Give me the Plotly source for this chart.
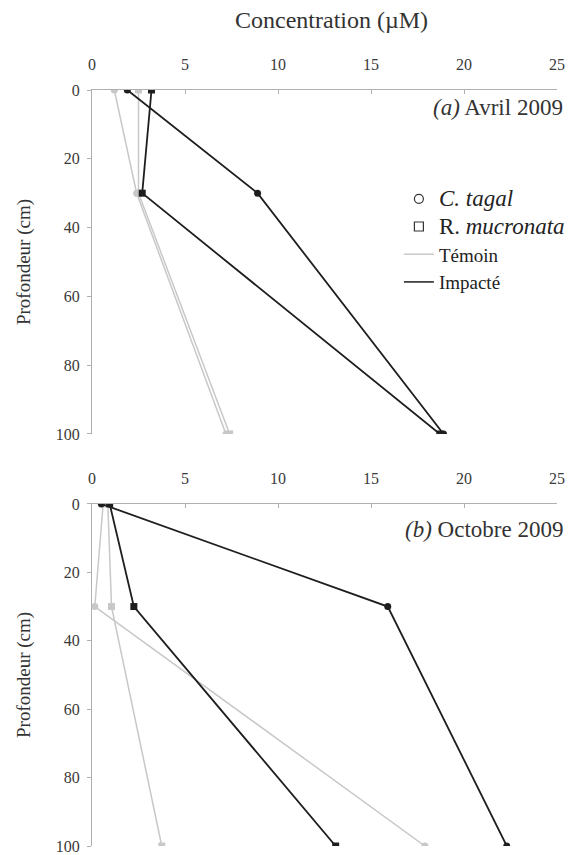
import plotly.graph_objects as go

# depth of each sample (cm)
depth = [0, 30, 100]

# (a) Avril 2009 - concentration (uM)
avr_ctagal_temoin = [1.2, 2.4, 7.2]
avr_rmuc_temoin = [2.5, 2.5, 7.4]
avr_ctagal_impacte = [1.9, 8.9, 18.9]
avr_rmuc_impacte = [3.2, 2.7, 18.7]

# (b) Octobre 2009
oct_ctagal_temoin = [0.6, 0.15, 17.9]
oct_rmuc_temoin = [0.85, 1.05, 3.75]
oct_ctagal_impacte = [0.5, 15.9, 22.3]
oct_rmuc_impacte = [0.95, 2.25, 13.1]

x_ticks = [0, 5, 10, 15, 20, 25]
y_ticks = [0, 20, 40, 60, 80, 100]

grey = '#c8c8c8'
black = '#1e1e1e'
axcol = '#b0b0b0'
font = 'Liberation Serif'

fig = go.Figure()

def add_series(xvals, color, symbol, width, xa, ya):
    fig.add_trace(go.Scatter(x=xvals, y=depth, mode='lines+markers', xaxis=xa, yaxis=ya,
                             line=dict(color=color, width=width),
                             marker=dict(color=color, symbol=symbol, size=7),
                             showlegend=False))

# témoin first so impacté draws on top
add_series(avr_ctagal_temoin, grey, 'circle', 1.5, 'x', 'y')
add_series(avr_rmuc_temoin, grey, 'square', 1.5, 'x', 'y')
add_series(avr_ctagal_impacte, black, 'circle', 1.8, 'x', 'y')
add_series(avr_rmuc_impacte, black, 'square', 1.8, 'x', 'y')

add_series(oct_ctagal_temoin, grey, 'circle', 1.5, 'x2', 'y2')
add_series(oct_rmuc_temoin, grey, 'square', 1.5, 'x2', 'y2')
add_series(oct_ctagal_impacte, black, 'circle', 1.8, 'x2', 'y2')
add_series(oct_rmuc_impacte, black, 'square', 1.8, 'x2', 'y2')

# legend only entries
fig.add_trace(go.Scatter(x=[None], y=[None], mode='markers',
                         name='<span style="font-size:23px"><i>C. tagal</i></span>',
                         marker=dict(symbol='circle-open', color='#333', size=9, line=dict(width=1.2))))
fig.add_trace(go.Scatter(x=[None], y=[None], mode='markers',
                         name='<span style="font-size:23px">R. <i>mucronata</i></span>',
                         marker=dict(symbol='square-open', color='#333', size=9, line=dict(width=1.2))))
fig.add_trace(go.Scatter(x=[None], y=[None], mode='lines', name='Témoin',
                         line=dict(color=grey, width=1.5)))
fig.add_trace(go.Scatter(x=[None], y=[None], mode='lines', name='Impacté',
                         line=dict(color=black, width=1.5)))

xcommon = dict(range=[0, 25], tickvals=x_ticks, side='top', showline=True, linecolor=axcol, linewidth=1,
               ticks='inside', ticklen=4, tickcolor=axcol, showgrid=False, zeroline=False, automargin=False,
               tickfont=dict(size=16, color='#3a3a3a', family=font), ticklabelstandoff=13)
ycommon = dict(range=[100, 0], tickvals=y_ticks, showline=True, linecolor=axcol, linewidth=1,
               ticks='outside', ticklen=4, tickcolor=axcol, showgrid=False, zeroline=False, automargin=False,
               tickfont=dict(size=16, color='#3a3a3a', family=font), ticklabelstandoff=4,
               ticklabeloverflow='allow',
               title=dict(text='Profondeur (cm)', font=dict(size=19, color='#333', family=font), standoff=20))

# page has an 8px body margin, so the figure is 8px smaller than the window
fig.update_layout(
    width=568, height=847,
    margin=dict(l=84, r=19, t=82, b=9, autoexpand=False),
    paper_bgcolor='white', plot_bgcolor='white',
    font=dict(family=font, color='#333'),
    xaxis=dict(xcommon, anchor='y', domain=[0, 1]),
    yaxis=dict(ycommon, anchor='x', domain=[0.545, 1]),
    xaxis2=dict(xcommon, anchor='y2', domain=[0, 1]),
    yaxis2=dict(ycommon, anchor='x2', domain=[0, 0.4525]),
    legend=dict(x=0.66, y=0.881, xanchor='left', yanchor='top', bgcolor='rgba(0,0,0,0)',
                font=dict(size=19, family=font, color='#222'), tracegroupgap=0, itemwidth=30),
    annotations=[
        dict(text='Concentration (µM)', xref='paper', yref='paper', x=0.515, y=1.093,
             xanchor='center', yanchor='middle', showarrow=False,
             font=dict(size=24, family=font, color='#333')),
        dict(text='<i>(a)</i> Avril 2009', xref='paper', yref='paper', x=1.018, y=0.977,
             xanchor='right', yanchor='middle', showarrow=False,
             font=dict(size=23, family=font, color='#333')),
        dict(text='<i>(b)</i> Octobre 2009', xref='paper', yref='paper', x=1.018, y=0.418,
             xanchor='right', yanchor='middle', showarrow=False,
             font=dict(size=23, family=font, color='#333')),
    ],
)

fig.write_html("out.html")
